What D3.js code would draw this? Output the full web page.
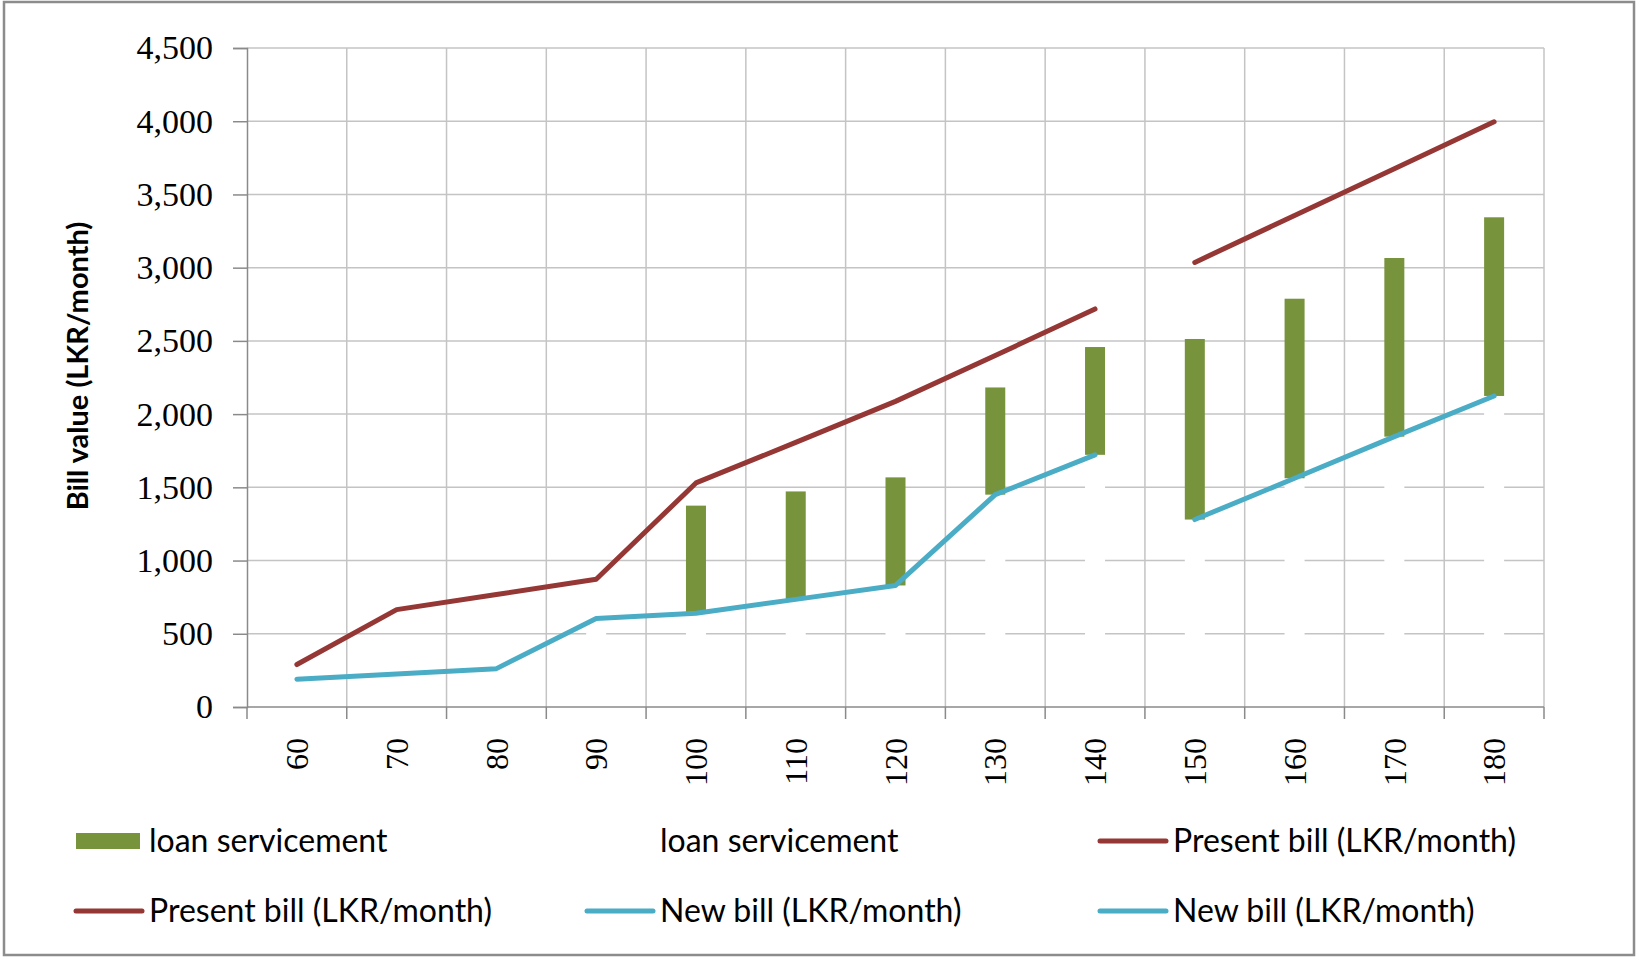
<!DOCTYPE html>
<html>
<head>
<meta charset="utf-8">
<script src="https://cdn.jsdelivr.net/npm/d3@7"></script>
<style>
  body { margin: 0; background: #fff; }
  svg { display: block; }
</style>
</head>
<body>
<div id="chart"></div>
<script>
// data
const categories = ['60', '70', '80', '90', '100', '110', '120', '130', '140', '150', '160', '170', '180'];
const loanBase = [190, 225, 262, 605, 640, 735, 830, 1450, 1722, 1280, 1562, 1846, 2124];
const loanService = [0, 0, 0, 0, 735, 737, 738, 732, 736, 1233, 1226, 1220, 1220];
const presentBill1 = [290, 665, 768, 872, 1530, 1807, 2087, 2400, 2718, null, null, null, null];
const presentBill2 = [null, null, null, null, null, null, null, null, null, 3036, 3356, 3676, 3996];
const newBill1 = [190, 225, 262, 605, 640, 735, 830, 1450, 1722, null, null, null, null];
const newBill2 = [null, null, null, null, null, null, null, null, null, 1280, 1562, 1846, 2124];
const yTicks = [0, 500, 1000, 1500, 2000, 2500, 3000, 3500, 4000, 4500];
const legendItems = [
  { label: 'loan servicement', type: 'rect', color: '#77933c' },
  { label: 'loan servicement', type: 'rect', color: '#ffffff' },
  { label: 'Present bill (LKR/month)', type: 'line', color: '#953735' },
  { label: 'Present bill (LKR/month)', type: 'line', color: '#953735' },
  { label: 'New bill (LKR/month)', type: 'line', color: '#4bacc6' },
  { label: 'New bill (LKR/month)', type: 'line', color: '#4bacc6' },
];

const WIDTH = 1638;
const HEIGHT = 958;
const margin = { top: 48, right: 94, bottom: 251, left: 247 };
const innerW = WIDTH - margin.left - margin.right;
const innerH = HEIGHT - margin.top - margin.bottom;
const GRID = '#c4c4c4';
const AXIS = '#8a8a8a';
const BAR_W = 20;

const svg = d3.select('#chart').append('svg')
  .attr('width', WIDTH)
  .attr('height', HEIGHT);

// outer frame
svg.append('rect')
  .attr('x', 4).attr('y', 2)
  .attr('width', WIDTH - 8).attr('height', HEIGHT - 5)
  .attr('fill', '#fff')
  .attr('stroke', '#8c8c8c')
  .attr('stroke-width', 2.5);

const g = svg.append('g').attr('transform', `translate(${margin.left},${margin.top})`);

const x = d3.scaleBand().domain(categories).range([0, innerW]).padding(0);
const y = d3.scaleLinear().domain([0, 4500]).range([innerH, 0]);
const xMid = (c) => x(c) + x.bandwidth() / 2;
const bounds = categories.map((c) => x(c)).concat([innerW]);

// gridlines
g.append('g').selectAll('line')
  .data(yTicks.slice(1))
  .join('line')
  .attr('x1', 0).attr('x2', innerW)
  .attr('y1', (d) => y(d)).attr('y2', (d) => y(d))
  .attr('stroke', GRID).attr('stroke-width', 1.5);

g.append('g').selectAll('line')
  .data(bounds.slice(1))
  .join('line')
  .attr('x1', (d) => d).attr('x2', (d) => d)
  .attr('y1', 0).attr('y2', innerH)
  .attr('stroke', GRID).attr('stroke-width', 1.5);

// stacked columns: white base + green loan servicement
g.append('g').selectAll('rect')
  .data(categories)
  .join('rect')
  .attr('x', (d) => xMid(d) - BAR_W / 2)
  .attr('width', BAR_W)
  .attr('y', (d, i) => y(loanBase[i]))
  .attr('height', (d, i) => innerH - y(loanBase[i]))
  .attr('fill', '#fff');

g.append('g').selectAll('rect')
  .data(categories.filter((d, i) => loanService[i] > 0))
  .join('rect')
  .attr('x', (d) => xMid(d) - BAR_W / 2)
  .attr('width', BAR_W)
  .attr('y', (d) => {
    const i = categories.indexOf(d);
    return y(loanBase[i] + loanService[i]);
  })
  .attr('height', (d) => {
    const i = categories.indexOf(d);
    return y(loanBase[i]) - y(loanBase[i] + loanService[i]);
  })
  .attr('fill', '#77933c');

// axes
const yAxis = g.append('g')
  .call(d3.axisLeft(y).tickValues(yTicks).tickSize(14).tickPadding(20).tickFormat(d3.format(',')));
yAxis.select('.domain').attr('stroke', AXIS).attr('stroke-width', 1.5);
yAxis.selectAll('.tick line').attr('stroke', AXIS).attr('stroke-width', 1.5);
yAxis.selectAll('.tick text')
  .attr('font-family', '"Liberation Serif", serif')
  .attr('font-size', 34)
  .attr('fill', '#000');

g.append('line')
  .attr('x1', 0).attr('x2', innerW)
  .attr('y1', innerH).attr('y2', innerH)
  .attr('stroke', AXIS).attr('stroke-width', 1.5);

g.append('g').selectAll('line')
  .data(bounds)
  .join('line')
  .attr('x1', (d) => d).attr('x2', (d) => d)
  .attr('y1', innerH).attr('y2', innerH + 12)
  .attr('stroke', AXIS).attr('stroke-width', 1.5);

g.append('g').selectAll('text')
  .data(categories)
  .join('text')
  .attr('transform', (d) => `translate(${xMid(d)},${innerH + 31}) rotate(-90)`)
  .attr('dy', '0.35em')
  .attr('text-anchor', 'end')
  .attr('font-family', '"Liberation Serif", serif')
  .attr('font-size', 32)
  .text((d) => d);

// lines
const line = d3.line()
  .defined((d) => d != null)
  .x((d, i) => xMid(categories[i]))
  .y((d) => y(d));

[
  [presentBill1, '#953735'],
  [presentBill2, '#953735'],
  [newBill1, '#4bacc6'],
  [newBill2, '#4bacc6'],
].forEach(([data, color]) => {
  g.append('path')
    .datum(data)
    .attr('d', line)
    .attr('fill', 'none')
    .attr('stroke', color)
    .attr('stroke-width', 5)
    .attr('stroke-linejoin', 'round')
    .attr('stroke-linecap', 'round');
});

// y axis title
svg.append('text')
  .attr('transform', 'translate(78,366) rotate(-90)')
  .attr('dy', '0.35em')
  .attr('text-anchor', 'middle')
  .attr('font-family', 'Lato, sans-serif')
  .attr('font-weight', 'bold')
  .attr('font-size', 29)
  .text('Bill value (LKR/month)');

// legend, 3 columns x 2 rows
const legend = svg.append('g');
const colX = [76, 587, 1100];
const rowY = [841, 911];
legendItems.forEach((item, k) => {
  const cx = colX[k % 3];
  const cy = rowY[Math.floor(k / 3)];
  const entry = legend.append('g').attr('transform', `translate(${cx},${cy})`);
  if (item.type === 'rect') {
    entry.append('rect')
      .attr('x', 0).attr('y', -8)
      .attr('width', 64).attr('height', 16)
      .attr('fill', item.color);
  } else {
    entry.append('line')
      .attr('x1', 0).attr('x2', 66)
      .attr('y1', 0).attr('y2', 0)
      .attr('stroke', item.color)
      .attr('stroke-width', 5)
      .attr('stroke-linecap', 'round');
  }
  entry.append('text')
    .attr('x', 73)
    .attr('dy', '0.35em')
    .attr('font-family', 'Lato, sans-serif')
    .attr('font-size', 32)
    .text(item.label);
});
</script>
</body>
</html>
